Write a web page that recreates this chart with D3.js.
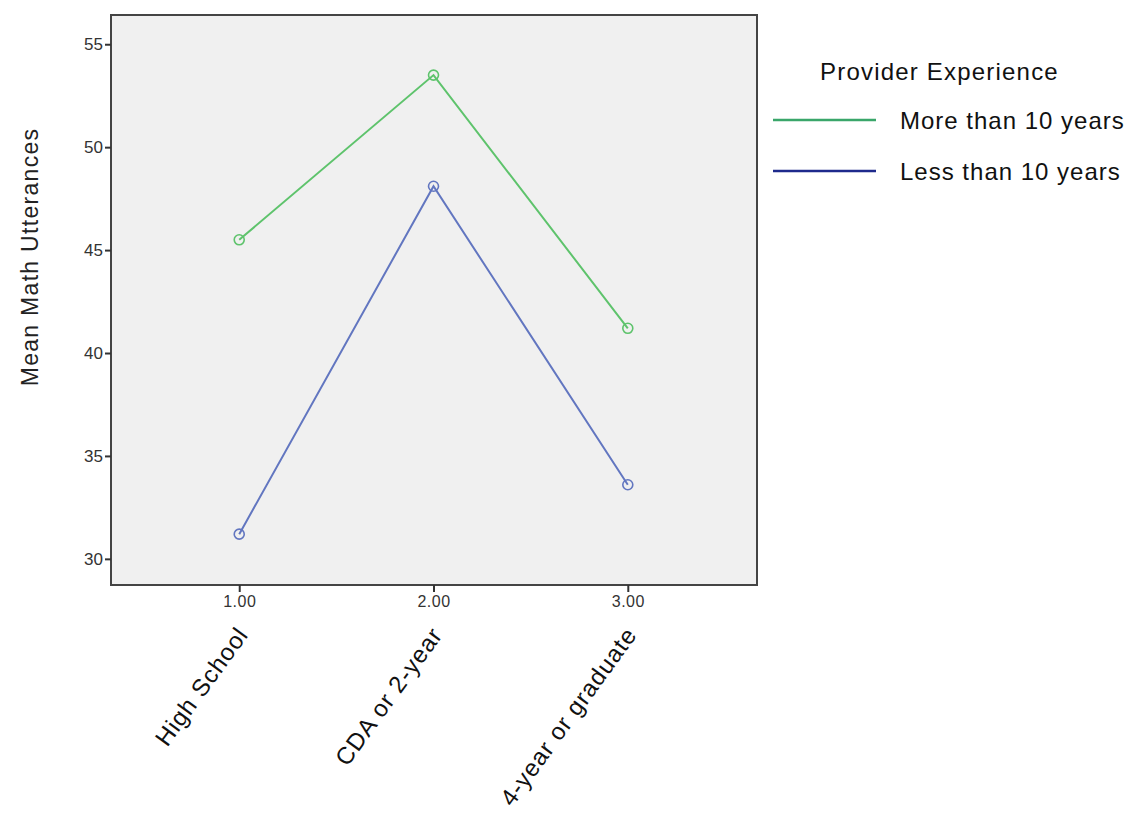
<!DOCTYPE html>
<html>
<head>
<meta charset="utf-8">
<script src="https://cdn.jsdelivr.net/npm/d3@7"></script>
<style>
  body { margin: 0; background: #fff; }
  svg text { font-family: Arial, "Liberation Sans", sans-serif; }
</style>
</head>
<body>
<div id="chart"></div>
<script>
// data
const xValues = [1, 2, 3];
const categories = ['High School', 'CDA or 2-year', '4-year or graduate'];
const moreThan10 = [45.5, 53.5, 41.2];
const lessThan10 = [31.2, 48.1, 33.6];
const yTicks = [30, 35, 40, 45, 50, 55];
const seriesNames = ['More than 10 years', 'Less than 10 years'];

const width = 1133, height = 815;
const margin = [15, 230, 111, 376]; // top, bottom, left, right

const svg = d3.select('#chart').append('svg')
    .attr('width', width)
    .attr('height', height);

const plotW = width - margin[2] - margin[3],
      plotH = height - margin[0] - margin[1];

const scaleX = d3.scaleLinear([0.34, 3.665], [0, plotW]);
const scaleY = d3.scaleLinear([28.73, 56.42], [plotH, 0]);

const chart = svg.append('g')
    .attr('transform', `translate(${margin[2]}, ${margin[0]})`);

// plot background + frame
chart.append('rect')
    .attr('width', plotW).attr('height', plotH)
    .attr('fill', '#f0f0f0')
    .attr('stroke', '#444').attr('stroke-width', 2);

// axes
const axisY = chart.append('g')
    .call(d3.axisLeft(scaleY).tickValues(yTicks).tickSize(6).tickPadding(2).tickSizeOuter(0));
axisY.select('.domain').remove();
axisY.selectAll('line').attr('stroke', '#333').attr('stroke-width', 2);
axisY.selectAll('text').attr('font-size', 17).attr('fill', '#333')
    .style('font-family', 'Arial, "Liberation Sans", sans-serif');

const axisX = chart.append('g')
    .attr('transform', `translate(0, ${plotH})`)
    .call(d3.axisBottom(scaleX).tickValues(xValues).tickFormat(d3.format('.2f')).tickSize(7).tickPadding(4));
axisX.select('.domain').remove();
axisX.selectAll('line').attr('stroke', '#333').attr('stroke-width', 2);
axisX.selectAll('text').attr('font-size', 16).attr('fill', '#333')
    .attr('letter-spacing', 0.5)
    .style('font-family', 'Arial, "Liberation Sans", sans-serif');

// rotated category labels
chart.append('g').selectAll('text.cat')
    .data(categories)
    .join('text')
    .classed('cat', true)
    .attr('transform', (d, i) => `translate(${scaleX(xValues[i]) + 10}, ${plotH + 50})rotate(-54)`)
    .attr('text-anchor', 'end')
    .attr('font-size', 24)
    .attr('letter-spacing', 0.9)
    .attr('fill', '#111')
    .text(d => d);

// y label
svg.append('text')
    .attr('transform', `translate(38, ${margin[0] + 242})rotate(-90)`)
    .attr('text-anchor', 'middle')
    .attr('font-size', 23)
    .attr('letter-spacing', 1.3)
    .attr('fill', '#222')
    .text('Mean Math Utterances');

// lines
const lineColors = ['#5ec36c', '#6276c0'];
const series = [moreThan10, lessThan10];
const line = d3.line().x((d, i) => scaleX(xValues[i])).y(d => scaleY(d));

series.forEach((vals, s) => {
    chart.append('path')
        .datum(vals)
        .attr('d', line)
        .attr('fill', 'none')
        .attr('stroke', lineColors[s])
        .attr('stroke-width', 2);
    chart.selectAll(`circle.s${s}`)
        .data(vals)
        .join('circle')
        .classed(`s${s}`, true)
        .attr('cx', (d, i) => scaleX(xValues[i]))
        .attr('cy', d => scaleY(d))
        .attr('r', 5)
        .attr('fill', 'none')
        .attr('stroke', lineColors[s])
        .attr('stroke-width', 1.6);
});

// legend
const legendColors = ['#3aa66a', '#1e2a8c'];
const legend = svg.append('g');
legend.append('text')
    .attr('x', 820).attr('y', 80)
    .attr('font-size', 24).attr('letter-spacing', 1.2).attr('fill', '#111')
    .text('Provider Experience');
seriesNames.forEach((name, i) => {
    const y = 120 + i * 51;
    legend.append('line')
        .attr('x1', 773).attr('x2', 876)
        .attr('y1', y).attr('y2', y)
        .attr('stroke', legendColors[i]).attr('stroke-width', 2.5);
    legend.append('text')
        .attr('x', 900).attr('y', y + 9)
        .attr('font-size', 24).attr('letter-spacing', 1).attr('fill', '#111')
        .text(name);
});
</script>
</body>
</html>
